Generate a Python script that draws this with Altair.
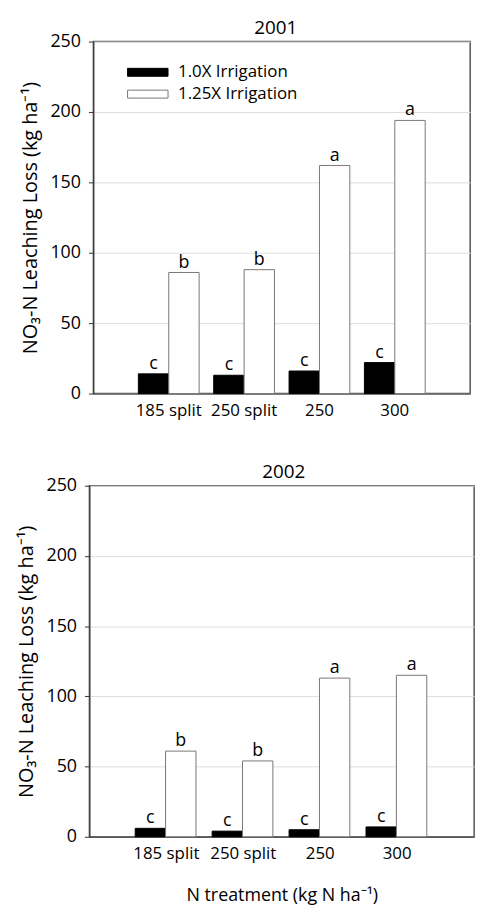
import altair as alt
import pandas as pd

categories = ["185 split", "250 split", "250", "300"]
series = ["1.0X Irrigation", "1.25X Irrigation"]

loss_2001_10 = [14, 13, 16, 22]
loss_2001_125 = [86, 88, 162, 194]
letters_2001_10 = ["c", "c", "c", "c"]
letters_2001_125 = ["b", "b", "a", "a"]

loss_2002_10 = [6, 4, 5, 7]
loss_2002_125 = [61, 54, 113, 115]
letters_2002_10 = ["c", "c", "c", "c"]
letters_2002_125 = ["b", "b", "a", "a"]

y_ticks = [0, 50, 100, 150, 200, 250]

FONT = "Open Sans"
YTITLE = "NO\u2083-N Leaching Loss (kg ha\u207b\u00b9)"
XTITLE = "N treatment (kg N ha\u207b\u00b9)"


def make_df(v10, v125, l10, l125):
    rows = []
    for c, a, b, la, lb in zip(categories, v10, v125, l10, l125):
        rows.append({"cat": c, "series": series[0], "val": a, "lab": la})
        rows.append({"cat": c, "series": series[1], "val": b, "lab": lb})
    return pd.DataFrame(rows)


def panel(df, year, width, height, show_xtitle, legend_x, legend_y, title_dx):
    x = alt.X("cat:N", sort=categories,
              scale=alt.Scale(paddingInner=0, paddingOuter=0.5),
              axis=alt.Axis(title=XTITLE if show_xtitle else None, labelAngle=0,
                            ticks=False, labelPadding=9, titlePadding=25,
                            labelFontSize=17, titleFontSize=18))
    xo = alt.XOffset("series:N", sort=series,
                     scale=alt.Scale(paddingInner=0, paddingOuter=0.24))
    y = alt.Y("val:Q", scale=alt.Scale(domain=[0, 250], nice=False),
              axis=alt.Axis(title=YTITLE, values=y_ticks, grid=True,
                            labelFontSize=18, titleFontSize=20, titlePadding=10))
    legend = alt.Legend(title=None, orient="none", legendX=legend_x, legendY=legend_y,
                        symbolType="M-5.1,-1L5.1,-1L5.1,1L-5.1,1Z", symbolSize=64,
                        labelOffset=22, rowPadding=4, padding=0,
                        labelFont=FONT, labelFontSize=17, labelColor="black",
                        symbolStrokeWidth=1)
    bars = alt.Chart().mark_bar(strokeWidth=1).encode(
        x=x, xOffset=xo, y=y,
        fill=alt.Fill("series:N", sort=series,
                      scale=alt.Scale(domain=series, range=["#000000", "#ffffff"]),
                      legend=legend),
        stroke=alt.Stroke("series:N", sort=series,
                          scale=alt.Scale(domain=series, range=["#000000", "#777777"]),
                          legend=legend),
    )
    texts = alt.Chart().mark_text(font=FONT, fontSize=18, baseline="bottom", dy=-1,
                                  color="black").encode(
        x=x, xOffset=xo, y=y, text="lab:N")
    return alt.layer(bars, texts, data=df).properties(
        width=width, height=height,
        title=alt.TitleParams(str(year), font=FONT, fontSize=19, fontWeight="normal",
                              color="black", offset=-5, dx=title_dx),
    )


df1 = make_df(loss_2001_10, loss_2001_125, letters_2001_10, letters_2001_125)
df2 = make_df(loss_2002_10, loss_2002_125, letters_2002_10, letters_2002_125)

top = panel(df1, 2001, 380, 355, False, 50.5, 22.5, -6)
bottom = panel(df2, 2002, 388, 354, True, 50.5, 24, 2)

chart = alt.vconcat(top, bottom, spacing=43, center=True).properties(
    padding={"left": 7, "top": 6, "right": 0, "bottom": 0}
).configure(
    font=FONT
).configure_view(
    stroke="#555555", strokeWidth=1.5
).configure_axis(
    labelFont=FONT, titleFont=FONT,
    titleFontWeight="normal", labelColor="black", titleColor="black",
    domainColor="#333333", tickColor="#333333", gridColor="#dddddd",
    tickSize=5, labelPadding=8,
).configure_axisX(grid=False)

chart.save("out.html", embed_options={"renderer": "svg", "actions": False})
